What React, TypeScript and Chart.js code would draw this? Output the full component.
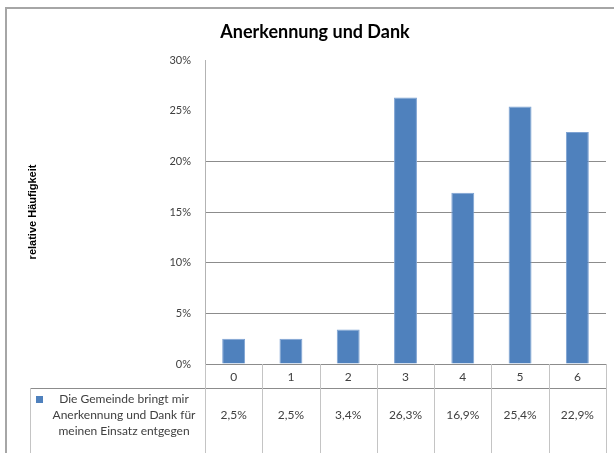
import React, { useEffect, useRef } from "react";
import { Chart, registerables } from "chart.js";

Chart.register(...registerables);

const title = "Anerkennung und Dank";
const yTitle = "relative Häufigkeit";
const categories = ["0", "1", "2", "3", "4", "5", "6"];
const seriesLabel = ["Die Gemeinde bringt mir", "Anerkennung und Dank für", "meinen Einsatz entgegen"];
const values = [0.025, 0.025, 0.034, 0.263, 0.169, 0.254, 0.229];

const FONT = "Lato, 'Liberation Sans', sans-serif";
const BAR = "#4f81bd";

const fmt = (v: number) => (v * 100).toFixed(1).replace(".", ",") + "%";

const decorPlugin = {
  id: "decor",
  beforeDraw(chart: any) {
    const { ctx, width, height } = chart;
    ctx.save();
    ctx.fillStyle = "#ffffff";
    ctx.fillRect(0, 0, width, height);
    ctx.restore();
  },
  afterDraw(chart: any) {
    const { ctx, chartArea } = chart;
    const { left, right, bottom } = chartArea;
    const n = categories.length;
    const cw = (right - left) / n;
    const headerBottom = bottom + 24;
    const tableBottom = 453;
    const tableLeft = 30;
    ctx.save();

    // outer frame
    ctx.strokeStyle = "#a6a6a6";
    ctx.lineWidth = 2;
    ctx.beginPath();
    ctx.moveTo(6, 460);
    ctx.lineTo(6, 8);
    ctx.lineTo(620, 8);
    ctx.stroke();

    // title
    ctx.fillStyle = "#000000";
    ctx.font = `bold 18px ${FONT}`;
    ctx.textAlign = "center";
    ctx.textBaseline = "middle";
    ctx.fillText(title, 315, 32);

    // y title
    ctx.save();
    ctx.translate(33, 212);
    ctx.rotate(-Math.PI / 2);
    ctx.font = "bold 11px 'Liberation Sans', Arial, sans-serif";
    ctx.fillStyle = "#000000";
    ctx.fillText(yTitle, 0, 0);
    ctx.restore();

    // table lines
    ctx.lineWidth = 1;
    ctx.strokeStyle = "#8c8c8c";
    ctx.beginPath();
    ctx.moveTo(left, Math.round(bottom) + 0.5);
    ctx.lineTo(right, Math.round(bottom) + 0.5);
    ctx.moveTo(tableLeft, headerBottom + 0.5);
    ctx.lineTo(right, headerBottom + 0.5);
    ctx.stroke();

    ctx.strokeStyle = "#c4c4c4";
    ctx.beginPath();
    for (let i = 0; i <= n; i++) {
      const x = Math.round(left + i * cw) + 0.5;
      ctx.moveTo(x, bottom);
      ctx.lineTo(x, tableBottom);
    }
    ctx.moveTo(tableLeft + 0.5, headerBottom);
    ctx.lineTo(tableLeft + 0.5, tableBottom);
    ctx.stroke();

    // header + values
    ctx.fillStyle = "#404040";
    ctx.font = `12px ${FONT}`;
    ctx.textAlign = "center";
    ctx.textBaseline = "middle";
    for (let i = 0; i < n; i++) {
      const cx = left + (i + 0.5) * cw;
      ctx.fillText(categories[i], cx, bottom + 13);
      ctx.fillText(fmt(values[i]), cx, 415);
    }

    // legend cell
    ctx.fillStyle = BAR;
    ctx.fillRect(36, 396, 7, 7);
    ctx.fillStyle = "#404040";
    ctx.font = `12px ${FONT}`;
    seriesLabel.forEach((t, i) => {
      ctx.fillText(t, 124, 399 + i * 16);
    });

    ctx.restore();
  },
};

export default function App() {
  const ref = useRef<HTMLCanvasElement | null>(null);
  useEffect(() => {
    if (!ref.current) return;
    const chart = new Chart(ref.current, {
      type: "bar",
      data: {
        labels: categories,
        datasets: [
          {
            label: seriesLabel.join(" "),
            data: values,
            backgroundColor: BAR,
            borderColor: "#7ea3d3",
            borderWidth: { left: 1, right: 1, top: 1, bottom: 0 },
            categoryPercentage: 1,
            barPercentage: 0.4,
          },
        ],
      },
      options: {
        responsive: false,
        animation: false,
        layout: { padding: { top: 60, bottom: 89, left: 0, right: 8 } },
        plugins: {
          legend: { display: false },
          title: { display: false },
          tooltip: { enabled: false },
        },
        scales: {
          x: { display: false },
          y: {
            min: 0,
            max: 0.3,
            afterFit: (s: any) => {
              s.width = 205;
            },
            ticks: {
              stepSize: 0.05,
              padding: 14,
              color: "#404040",
              font: { family: FONT, size: 11 },
              callback: (v: any) => Math.round(Number(v) * 100) + "%",
            },
            grid: {
              drawTicks: false,
              color: (c: any) => {
                const v = c.tick ? c.tick.value : 0;
                if (v > 0.2001 || v < 0.001) return "rgba(0,0,0,0)";
                return "#8c8c8c";
              },
            },
            border: { color: "#b3b3b3" },
          },
        },
      },
      plugins: [decorPlugin],
    });
    return () => chart.destroy();
  }, []);
  return (
    <div style={{ position: "absolute", left: 0, top: 0, width: 614, height: 453 }}>
      <canvas ref={ref} width={614} height={453} style={{ display: "block" }} />
    </div>
  );
}
